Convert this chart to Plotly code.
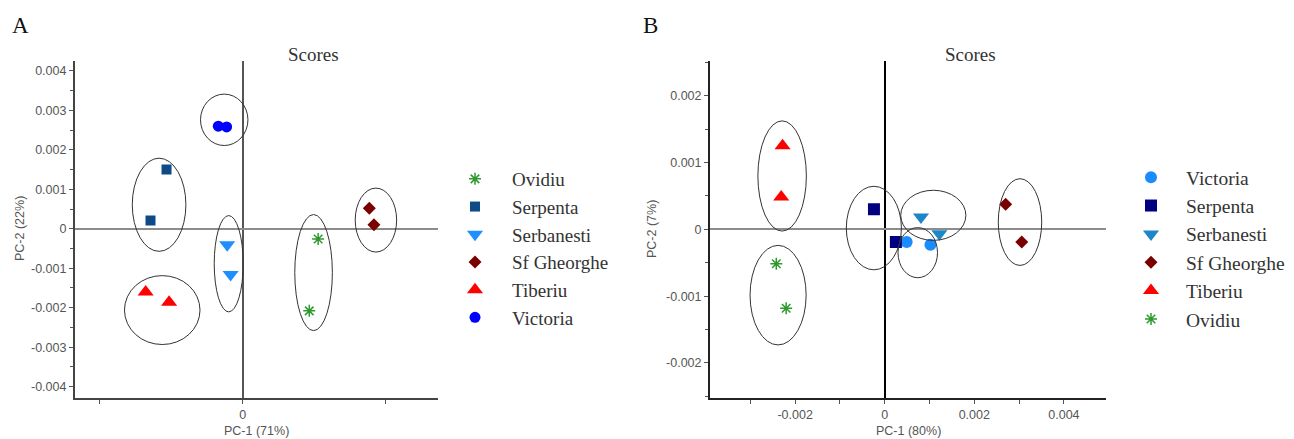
import plotly.graph_objects as go

W, H = 1294, 439

# ---------------- Panel A data ----------------
a_groups = ["Ovidiu", "Serpenta", "Serbanesti", "Sf Gheorghe", "Tiberiu", "Victoria"]
a_x = {
    "Ovidiu": [0.00264, 0.00233],
    "Serpenta": [-0.00266, -0.00322],
    "Serbanesti": [-0.00054, -0.00042],
    "Sf Gheorghe": [0.00443, 0.00459],
    "Tiberiu": [-0.00339, -0.00257],
    "Victoria": [-0.00085, -0.00056],
}
a_y = {
    "Ovidiu": [-0.00026, -0.00208],
    "Serpenta": [0.0015, 0.00021],
    "Serbanesti": [-0.000405, -0.00116],
    "Sf Gheorghe": [0.00052, 0.0001],
    "Tiberiu": [-0.0016, -0.00186],
    "Victoria": [0.0026, 0.00258],
}
# ellipses: centre x, centre y, radius x, radius y
a_ell_cx = [0.00248, -0.00292, -0.000486, 0.00466, -0.00281, -0.000643]
a_ell_cy = [-0.00111, 0.000608, -0.000886, 0.00022, -0.00206, 0.00276]
a_ell_rx = [0.000657, 0.000937, 0.000507, 0.000724, 0.00132, 0.000829]
a_ell_ry = [0.00147, 0.00118, 0.00122, 0.00081, 0.000873, 0.000651]

# ---------------- Panel B data ----------------
b_groups = ["Victoria", "Serpenta", "Serbanesti", "Sf Gheorghe", "Tiberiu", "Ovidiu"]
b_x = {
    "Victoria": [0.00049, 0.00102],
    "Serpenta": [-0.00024, 0.00025],
    "Serbanesti": [0.00081, 0.00122],
    "Sf Gheorghe": [0.0027, 0.00306],
    "Tiberiu": [-0.00228, -0.00231],
    "Ovidiu": [-0.00242, -0.0022],
}
b_y = {
    "Victoria": [-0.00019, -0.00023],
    "Serpenta": [0.0003, -0.00019],
    "Serbanesti": [0.000185, -0.000065],
    "Sf Gheorghe": [0.000375, -0.00019],
    "Tiberiu": [0.00125, 0.000485],
    "Ovidiu": [-0.000515, -0.00118],
}
b_ell_cx = [0.000738, -0.000242, 0.001085, 0.00302, -0.00229, -0.00238]
b_ell_cy = [-0.000349, 0.0000195, 0.00021, 0.000109, 0.000799, -0.000985]
b_ell_rx = [0.000441, 0.000615, 0.000727, 0.000485, 0.000541, 0.000626]
b_ell_ry = [0.000375, 0.000625, 0.000375, 0.000649, 0.000825, 0.000745]

a_style = {
    "Ovidiu": dict(symbol="asterisk-open", color="#2e9a2e", size=10, line=dict(color="#2e9a2e", width=1.5)),
    "Serpenta": dict(symbol="square", color="#0d4a87", size=10, line=dict(width=0)),
    "Serbanesti": dict(symbol="triangle-down", color="#1e8fff", size=14, line=dict(width=0)),
    "Sf Gheorghe": dict(symbol="diamond", color="#7a0000", size=10, line=dict(width=0)),
    "Tiberiu": dict(symbol="triangle-up", color="#ff0000", size=14, line=dict(width=0)),
    "Victoria": dict(symbol="circle", color="#0000ff", size=11, line=dict(width=0)),
}
b_style = {
    "Victoria": dict(symbol="circle", color="#1a8cff", size=12, line=dict(width=0)),
    "Serpenta": dict(symbol="square", color="#000080", size=12, line=dict(width=0)),
    "Serbanesti": dict(symbol="triangle-down", color="#1c86c9", size=14, line=dict(width=0)),
    "Sf Gheorghe": dict(symbol="diamond", color="#7a0000", size=10, line=dict(width=0)),
    "Tiberiu": dict(symbol="triangle-up", color="#ff0000", size=14, line=dict(width=0)),
    "Ovidiu": dict(symbol="asterisk-open", color="#2e9a2e", size=10, line=dict(color="#2e9a2e", width=1.5)),
}

fig = go.Figure()
for i, g in enumerate(a_groups):
    fig.add_trace(go.Scatter(x=a_x[g], y=a_y[g], mode="markers", name=g,
                             marker=a_style[g], xaxis="x", yaxis="y",
                             legend="legend"))
for i, g in enumerate(b_groups):
    fig.add_trace(go.Scatter(x=b_x[g], y=b_y[g], mode="markers", name=g,
                             marker=b_style[g], xaxis="x2", yaxis="y2",
                             legend="legend2"))

shapes = []
for cx, cy, rx, ry in zip(a_ell_cx, a_ell_cy, a_ell_rx, a_ell_ry):
    shapes.append(dict(type="circle", xref="x", yref="y", x0=cx - rx, x1=cx + rx,
                       y0=cy - ry, y1=cy + ry, line=dict(color="#333333", width=1)))
for cx, cy, rx, ry in zip(b_ell_cx, b_ell_cy, b_ell_rx, b_ell_ry):
    shapes.append(dict(type="circle", xref="x2", yref="y2", x0=cx - rx, x1=cx + rx,
                       y0=cy - ry, y1=cy + ry, line=dict(color="#333333", width=1)))

def px(x):
    return x / W

def py(y):
    return 1 - y / H

tickfont = dict(family="Liberation Sans, Arial, sans-serif", size=12.5, color="#555555")

a_xtick_vals = [-0.005, 0, 0.005]
a_xtick_text = ["", "0", ""]
a_ytick_vals = [-0.004, -0.003, -0.002, -0.001, 0, 0.001, 0.002, 0.003, 0.004]
a_ytick_text = ["-0.004", "-0.003", "-0.002", "-0.001", "0", "0.001", "0.002", "0.003", "0.004"]
b_xtick_vals = [-0.002, 0, 0.002, 0.004]
b_xtick_text = ["-0.002", "0", "0.002", "0.004"]
b_ytick_vals = [-0.002, -0.001, 0, 0.001, 0.002]
b_ytick_text = ["-0.002", "-0.001", "0", "0.001", "0.002"]

fig.update_layout(
    width=W, height=H, margin=dict(l=0, r=0, t=0, b=0),
    paper_bgcolor="white", plot_bgcolor="white",
    shapes=shapes,
    xaxis=dict(domain=[px(74.7), px(438)], range=[-0.00587, 0.00683],
               tickvals=a_xtick_vals, ticktext=a_xtick_text, ticks="outside", ticklen=4,
               tickcolor="#555555", tickfont=tickfont, showgrid=False,
               showline=True, linecolor="#444444", linewidth=2,
               zeroline=True, zerolinecolor="#555555", zerolinewidth=1.5, anchor="y"),
    yaxis=dict(domain=[py(397.7), py(61)], range=[-0.00428, 0.00425],
               tickvals=a_ytick_vals, ticktext=a_ytick_text, ticks="outside", ticklen=4,
               tickcolor="#555555", tickfont=tickfont, showgrid=False,
               minor=dict(ticks="outside", dtick=0.0005, ticklen=3, tickcolor="#555555"),
               showline=True, linecolor="#444444", linewidth=1.5,
               zeroline=True, zerolinecolor="#8c8c8c", zerolinewidth=2, anchor="x"),
    xaxis2=dict(domain=[px(710), px(1106)], range=[-0.0039, 0.00494],
                tickvals=b_xtick_vals, ticktext=b_xtick_text, ticks="outside", ticklen=4,
                tickcolor="#555555", tickfont=tickfont, showgrid=False,
                minor=dict(ticks="outside", dtick=0.001, ticklen=4, tickcolor="#555555"),
                showline=True, linecolor="#222222", linewidth=2,
                zeroline=True, zerolinecolor="#000000", zerolinewidth=2, anchor="y2"),
    yaxis2=dict(domain=[py(397.7), py(61)], range=[-0.00252, 0.00252],
                tickvals=b_ytick_vals, ticktext=b_ytick_text, ticks="outside", ticklen=4,
                tickcolor="#555555", tickfont=tickfont, showgrid=False,
                minor=dict(ticks="outside", dtick=0.0005, ticklen=3, tickcolor="#555555"),
                showline=True, linecolor="#222222", linewidth=2,
                zeroline=True, zerolinecolor="#8c8c8c", zerolinewidth=2, anchor="x2"),
    legend=dict(x=px(438), y=py(160), xanchor="left", yanchor="top",
                font=dict(family="Liberation Serif, Times New Roman, serif", size=19, color="#333333"),
                itemwidth=64, bgcolor="rgba(0,0,0,0)"),
    legend2=dict(x=px(1116), y=py(158), xanchor="left", yanchor="top",
                 font=dict(family="Liberation Serif, Times New Roman, serif", size=19.5, color="#333333"),
                 itemwidth=60, bgcolor="rgba(0,0,0,0)"),
    showlegend=True,
)

serif = "Liberation Serif, Times New Roman, serif"
sans = "Liberation Sans, Arial, sans-serif"
annots = [
    dict(text="A", x=px(20), y=py(25), font=dict(family=serif, size=23, color="#111111")),
    dict(text="B", x=px(650), y=py(25), font=dict(family=serif, size=23, color="#111111")),
    dict(text="Scores", x=px(313.5), y=py(55), font=dict(family=serif, size=19, color="#333333")),
    dict(text="Scores", x=px(970), y=py(55), font=dict(family=serif, size=19, color="#333333")),
    dict(text="PC-1 (71%)", x=px(256.7), y=py(431), font=dict(family=sans, size=12.5, color="#555555")),
    dict(text="PC-1 (80%)", x=px(908), y=py(431), font=dict(family=sans, size=12.5, color="#555555")),
    dict(text="PC-2 (22%)", x=px(20), y=py(229), textangle=-90, font=dict(family=sans, size=12.5, color="#555555")),
    dict(text="PC-2 (7%)", x=px(652), y=py(229), textangle=-90, font=dict(family=sans, size=12.5, color="#555555")),
]
for a in annots:
    a.update(xref="paper", yref="paper", showarrow=False, xanchor="center", yanchor="middle")
fig.update_layout(annotations=annots)

fig.write_html("out.html")
